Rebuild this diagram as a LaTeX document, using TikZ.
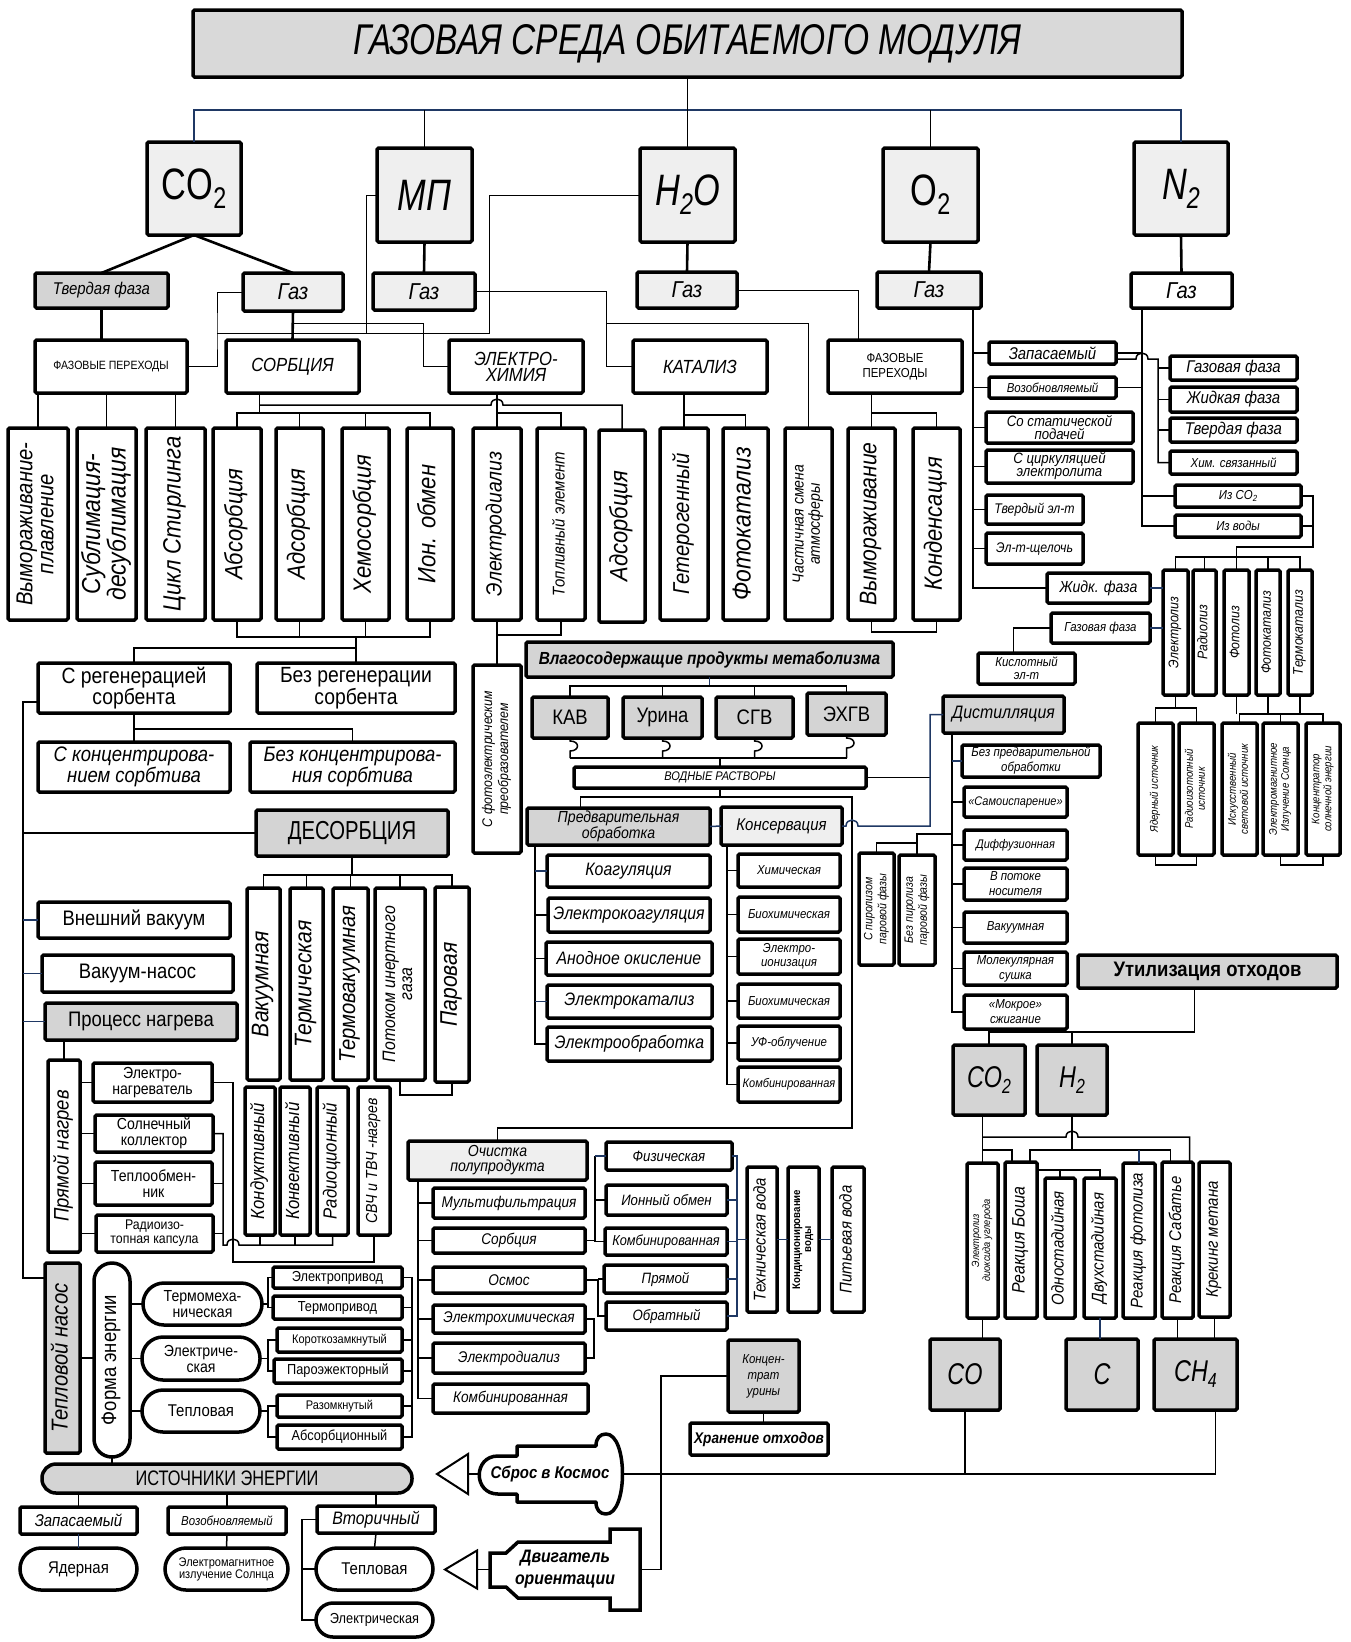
\documentclass[tikz,border=0pt]{standalone}
\usepackage{fontspec}
\setmainfont{Liberation Sans}[FakeStretch=0.88]
\newfontfamily\narrow{Liberation Sans}[FakeStretch=0.78]
\definecolor{cdark}{HTML}{D4D4D4}
\definecolor{clight}{HTML}{EFEFEF}
\definecolor{ctitle}{HTML}{D9D9D9}
\definecolor{cnavy}{HTML}{1F3864}
\newcommand\fsi[2]{\fontsize{#1}{#2}\selectfont\itshape}
\newcommand\fsu[2]{\fontsize{#1}{#2}\selectfont\upshape}
\newcommand\vtext[1]{\rotatebox{90}{\begin{tabular}{@{}c@{}}#1\end{tabular}}}
\newcommand\sbs[1]{\raisebox{-0.2em}{\scalebox{0.68}{#1}}}
\tikzset{
  b/.style={draw, fill=#1, line width=3.5pt, rounded corners=1.5pt, inner sep=0pt, outer sep=0pt, align=center},
  b/.default=white,
  cell/.style args={#1,#2,#3,#4}{at={({(#1+#3)/2},{(#2+#4)/2})}, minimum width={#3-#1}, minimum height={#4-#2}},
  lbl/.style={inner sep=0pt, outer sep=0pt, align=center},
  ln/.style={line width=1.5pt},
  tl/.style={line width=1pt},
  tk/.style={line width=2.6pt},
  nl/.style={ln, draw=cnavy},
  hull/.style={line width=3.5pt, fill=white, line join=round},
  tri/.style={line width=2pt, fill=white, line join=miter},
}
\begin{document}
\begin{tikzpicture}[x=1pt, y=-1pt]
\useasboundingbox (0,0) rectangle (1351,1642);

% top level
\node[b=ctitle, cell={193,10,1182,77}, font={\narrow\fsi{43}{43}}] (title) {ГАЗОВАЯ СРЕДА ОБИТАЕМОГО МОДУЛЯ};
\node[b=clight, cell={147,142,241,235}, font={\narrow\fsu{44}{44}}] (co2) {CO\sbs{2}};
\node[b=clight, cell={377,148,472,242}, font={\narrow\fsi{44}{44}}] (mp) {МП};
\node[b=clight, cell={640,148,735,242}, font={\narrow\fsi{44}{44}}] (h2o) {H\sbs{2}O};
\node[b=clight, cell={883,148,978,242}, font={\narrow\fsu{44}{44}}] (o2) {O\sbs{2}};
\node[b=clight, cell={1134,142,1228,235}, font={\narrow\fsi{44}{44}}] (n2) {N\sbs{2}};

% phases
\node[b=cdark, cell={35,273,168,308}, font={\fsi{17}{17}}] (tv) {Твердая фаза};
\node[b=clight, cell={243,273,343,311}, font={\fsi{23}{23}}] (gco2) {Газ};
\node[b=clight, cell={373,273,475,310}, font={\fsi{23}{23}}] (gmp) {Газ};
\node[b=clight, cell={637,272,737,308}, font={\fsi{23}{23}}] (gh2o) {Газ};
\node[b=clight, cell={877,272,981,308}, font={\fsi{23}{23}}] (go2) {Газ};
\node[b, cell={1131,273,1232,308}, font={\fsi{23}{23}}] (gn2) {Газ};

% methods
\node[b, cell={35,340,187,393}, font={\fsu{12}{12}}] (fpco2) {ФАЗОВЫЕ ПЕРЕХОДЫ};
\node[b, cell={226,340,359,393}, font={\fsi{19}{19}}] (sorb) {СОРБЦИЯ};
\node[b, cell={449,340,583,393}, font={\fsi{19}{16}}] (elch) {ЭЛЕКТРО-\\ХИМИЯ};
\node[b, cell={633,340,767,393}, font={\fsi{19}{19}}] (kat) {КАТАЛИЗ};
\node[b, cell={828,340,962,393}, font={\fsu{13}{15}}] (fpo2) {ФАЗОВЫЕ\\ПЕРЕХОДЫ};

% oxygen and nitrogen
\node[b, cell={989,342,1116,364}, font={\fsi{17}{17}}] (zap) {Запасаемый};
\node[b, cell={989,377,1116,398}, font={\fsi{13}{13}}] (voz) {Возобновляемый};
\node[b, cell={1170,356,1297,380}, font={\fsi{17}{17}}] (gazf) {Газовая фаза};
\node[b, cell={1170,387,1297,412}, font={\fsi{17}{17}}] (zhidf) {Жидкая фаза};
\node[b, cell={1170,418,1297,442}, font={\fsi{17}{17}}] (tvf) {Твердая фаза};
\node[b, cell={1170,451,1297,474}, font={\fsi{13}{13}}] (him) {Хим. связанный};
\node[b, cell={1175,485,1301,507}, font={\fsi{13}{13}}] (izco2) {Из CO\sbs{2}};
\node[b, cell={1175,515,1301,537}, font={\fsi{13}{13}}] (izvod) {Из воды};
\node[b, cell={986,412,1133,443}, font={\fsi{15}{13}}] (sostat) {Со статической\\подачей};
\node[b, cell={986,450,1133,483}, font={\fsi{15}{13}}] (scirk) {С циркуляцией\\электролита};
\node[b, cell={986,495,1083,524}, font={\fsi{14}{14}}] (tvel) {Твердый эл-т};
\node[b, cell={986,533,1083,564}, font={\fsi{14}{14}}] (elsh) {Эл-т-щелочь};
\node[b, cell={1047,573,1150,603}, font={\fsi{16}{16}}] (zhidk) {Жидк. фаза};
\node[b, cell={1051,613,1150,643}, font={\fsi{13}{13}}] (gazf2) {Газовая фаза};
\node[b, cell={978,653,1075,684}, font={\fsi{13}{13}}] (kisl) {Кислотный\\эл-т};
\node[b, cell={1163,570,1188,695}, font={\fsi{14}{14}}] (elz) {\vtext{Электролиз}};
\node[b, cell={1193,570,1216,695}, font={\fsi{14}{14}}] (rad) {\vtext{Радиолиз}};
\node[b, cell={1224,570,1249,695}, font={\fsi{14}{14}}] (fotol) {\vtext{Фотолиз}};
\node[b, cell={1256,570,1280,695}, font={\fsi{14}{14}}] (fotok) {\vtext{Фотокатализ}};
\node[b, cell={1288,570,1312,695}, font={\fsi{14}{14}}] (termok) {\vtext{Термокатализ}};
\node[b, cell={1138,723,1173,855}, font={\fsi{11}{12}}] (yad) {\vtext{Ядерный источник}};
\node[b, cell={1179,723,1214,855}, font={\fsi{11}{12}}] (radioiz) {\vtext{Радиоизотопный\\источник}};
\node[b, cell={1222,723,1257,855}, font={\fsi{11}{12}}] (iskus) {\vtext{Искусственный\\световой источник}};
\node[b, cell={1263,723,1298,855}, font={\fsi{11}{12}}] (elmag) {\vtext{Электромагнитное\\Излучение Солнца}};
\node[b, cell={1306,723,1340,855}, font={\fsi{11}{12}}] (konc) {\vtext{Концентратор\\солнечной энергии}};

% vertical row
\node[b, cell={8,428,68,620}, font={\fsi{23}{21}}] (vymp) {\vtext{Вымораживание-\\плавление}};
\node[b, cell={77,428,136,620}, font={\fsi{26}{21}}] (subl) {\vtext{Сублимация-\\десублимация}};
\node[b, cell={146,428,205,620}, font={\fsi{25}{25}}] (stirl) {\vtext{Цикл Стирлинга}};
\node[b, cell={213,428,261,620}, font={\fsi{25}{25}}] (absb) {\vtext{Абсорбция}};
\node[b, cell={276,428,323,620}, font={\fsi{25}{25}}] (adsb) {\vtext{Адсорбция}};
\node[b, cell={342,428,389,620}, font={\fsi{25}{25}}] (hemb) {\vtext{Хемосорбция}};
\node[b, cell={407,428,453,620}, font={\fsi{25}{25}}] (ionb) {\vtext{Ион. обмен}};
\node[b, cell={473,428,521,620}, font={\fsi{22}{22}}] (eldial) {\vtext{Электродиализ}};
\node[b, cell={537,428,585,620}, font={\fsi{17}{17}}] (topl) {\vtext{Топливный элемент}};
\node[b, cell={599,430,645,622}, font={\fsi{25}{25}}] (ads2) {\vtext{Адсорбция}};
\node[b, cell={660,428,708,620}, font={\fsi{23}{23}}] (getb) {\vtext{Гетерогенный}};
\node[b, cell={723,428,768,620}, font={\fsi{26}{26}}] (fotkb) {\vtext{Фотокатализ}};
\node[b, cell={785,428,832,620}, font={\fsi{16}{16}}] (chs) {\vtext{Частичная смена\\атмосферы}};
\node[b, cell={848,428,895,620}, font={\fsi{24}{24}}] (vym) {\vtext{Вымораживание}};
\node[b, cell={913,428,960,620}, font={\fsi{25}{25}}] (kond) {\vtext{Конденсация}};

% sorbent
\node[b, cell={38,663,230,713}, font={\fsu{22}{18}}] (sreg) {С регенерацией\\сорбента};
\node[b, cell={257,663,455,713}, font={\fsu{22}{18}}] (bezreg) {Без регенерации\\сорбента};
\node[b, cell={38,742,230,792}, font={\fsi{21}{18}}] (skonc) {С концентрирова-\\нием сорбтива};
\node[b, cell={250,742,455,792}, font={\fsi{21}{18}}] (bezkonc) {Без концентрирова-\\ния сорбтива};

% desorption
\node[b=cdark, cell={256,810,448,856}, font={\narrow\fsu{26}{26}}] (desorb) {ДЕСОРБЦИЯ};
\node[b, cell={38,902,230,938}, font={\fsu{21}{21}}] (vnv) {Внешний вакуум};
\node[b, cell={42,955,233,992}, font={\fsu{21}{21}}] (vakn) {Вакуум-насос};
\node[b=cdark, cell={45,1003,237,1040}, font={\fsu{21}{21}}] (pnag) {Процесс нагрева};
\node[b, cell={247,888,280,1080}, font={\fsi{24}{24}}] (vak1) {\vtext{Вакуумная}};
\node[b, cell={290,888,323,1080}, font={\fsi{24}{24}}] (term) {\vtext{Термическая}};
\node[b, cell={333,888,368,1080}, font={\fsi{23}{23}}] (tvak) {\vtext{Термовакуумная}};
\node[b, cell={375,888,425,1080}, font={\fsi{18}{17}}] (potok) {\vtext{Потоком инертного\\газа}};
\node[b, cell={435,887,469,1082}, font={\fsi{24}{24}}] (par) {\vtext{Паровая}};

% heating
\node[b, cell={48,1060,80,1252}, font={\fsi{21}{21}}] (prn) {\vtext{Прямой нагрев}};
\node[b, cell={93,1063,212,1102}, font={\fsu{16}{16}}] (elnag) {Электро-\\нагреватель};
\node[b, cell={95,1115,213,1152}, font={\fsu{16}{16}}] (solk) {Солнечный\\коллектор};
\node[b, cell={95,1162,212,1205}, font={\fsu{16}{16}}] (teplo) {Теплообмен-\\ник};
\node[b, cell={96,1215,213,1252}, font={\fsu{14}{14}}] (radk) {Радиоизо-\\топная капсула};
\node[b, cell={245,1087,275,1235}, font={\fsi{19}{19}}] (kond1) {\vtext{Кондуктивный}};
\node[b, cell={280,1087,310,1235}, font={\fsi{19}{19}}] (konv) {\vtext{Конвективный}};
\node[b, cell={317,1087,348,1235}, font={\fsi{19}{19}}] (rad2) {\vtext{Радиоционный}};
\node[b, cell={358,1087,390,1235}, font={\fsi{16}{16}}] (svch) {\vtext{СВЧ и ТВЧ -нагрев}};

% energy forms
\node[b=cdark, cell={45,1263,80,1453}, font={\fsi{23}{23}}] (tepn) {\vtext{Тепловой насос}};
\node[b, rounded corners=18pt, cell={94,1263,130,1457}, font={\fsu{21}{21}}] (forma) {\vtext{Форма энергии}};
\node[b, rounded corners=21pt, cell={143,1283,262,1325}, font={\fsu{16}{16}}] (termm) {Термомеха-\\ническая};
\node[b, rounded corners=21pt, cell={142,1337,260,1380}, font={\fsu{16}{16}}] (elek) {Электриче-\\ская};
\node[b, rounded corners=21pt, cell={142,1390,260,1432}, font={\fsu{17}{17}}] (teplv) {Тепловая};
\node[b, cell={273,1267,402,1288}, font={\fsu{14.5}{14.5}}] (elpr) {Электропривод};
\node[b, cell={273,1296,402,1319}, font={\fsu{14.5}{14.5}}] (termpr) {Термопривод};
\node[b, cell={277,1328,402,1352}, font={\fsu{12.5}{12.5}}] (korot) {Короткозамкнутый};
\node[b, cell={274,1359,402,1383}, font={\fsu{14.5}{14.5}}] (paroj) {Пароэжекторный};
\node[b, cell={277,1395,402,1417}, font={\fsu{12.5}{12.5}}] (razom) {Разомкнутый};
\node[b, cell={277,1425,402,1449}, font={\fsu{14.5}{14.5}}] (absorbc) {Абсорбционный};

% energy sources
\node[b=cdark, rounded corners=14pt, cell={42,1464,412,1493}, font={\narrow\fsu{21}{21}}] (ist) {ИСТОЧНИКИ ЭНЕРГИИ};
\node[b, cell={20,1507,137,1534}, font={\fsi{17}{17}}] (zap2) {Запасаемый};
\node[b, cell={168,1507,286,1534}, font={\fsi{13}{13}}] (voz2) {Возобновляемый};
\node[b, cell={317,1506,435,1533}, font={\fsi{18}{18}}] (vtor) {Вторичный};
\node[b, rounded corners=21pt, cell={20,1548,137,1590}, font={\fsu{17}{17}}] (yadr) {Ядерная};
\node[b, rounded corners=21pt, cell={165,1548,288,1590}, font={\fsu{12.5}{12}}] (elms) {Электромагнитное\\излучение Солнца};
\node[b, rounded corners=21pt, cell={316,1548,433,1590}, font={\fsu{17}{17}}] (teplv2) {Тепловая};
\node[b, rounded corners=17pt, cell={316,1603,433,1637}, font={\fsu{14.5}{14.5}}] (elek2) {Электрическая};

% water
\node[b, cell={473,665,521,853}, font={\fsi{14}{16}}] (sfot) {\vtext{С фотоэлектрическим\\преобразователем}};
\node[b=cdark, cell={526,642,893,677}, font={\fsi{17.5}{17.5}\bfseries}] (vlag) {Влагосодержащие продукты метаболизма};
\node[b=cdark, cell={532,697,608,738}, font={\fsu{21}{21}}] (kav) {КАВ};
\node[b=cdark, cell={623,697,702,738}, font={\fsu{21}{21}}] (ur) {Урина};
\node[b=cdark, cell={716,697,793,738}, font={\fsu{21}{21}}] (sgv) {СГВ};
\node[b=cdark, cell={807,693,886,735}, font={\fsu{21}{21}}] (ehgv) {ЭХГВ};
\node[b, cell={574,767,866,788}, font={\fsi{12.5}{12.5}}] (vodr) {ВОДНЫЕ РАСТВОРЫ};
\node[b=cdark, cell={527,808,710,845}, font={\fsi{16}{14}}] (pred) {Предварительная\\обработка};
\node[b=clight, cell={721,807,842,845}, font={\fsi{17}{17}}] (kons) {Консервация};
\node[b, cell={547,855,710,887}, font={\fsi{18}{18}}] (koag) {Коагуляция};
\node[b, cell={548,898,710,932}, font={\fsi{18}{18}}] (elkoag) {Электрокоагуляция};
\node[b, cell={546,942,712,975}, font={\fsi{18}{18}}] (anod) {Анодное окисление};
\node[b, cell={547,985,712,1018}, font={\fsi{18}{18}}] (elkat) {Электрокатализ};
\node[b, cell={547,1027,712,1061}, font={\fsi{18}{18}}] (elob) {Электрообработка};
\node[b, cell={738,854,840,887}, font={\fsi{13}{13}}] (him2) {Химическая};
\node[b, cell={738,897,840,932}, font={\fsi{13}{13}}] (bioh1) {Биохимическая};
\node[b, cell={738,939,840,974}, font={\fsi{13}{14}}] (elion) {Электро-\\ионизация};
\node[b, cell={738,984,840,1018}, font={\fsi{13}{13}}] (bioh2) {Биохимическая};
\node[b, cell={738,1026,840,1060}, font={\fsi{13}{13}}] (uf) {УФ-облучение};
\node[b, cell={738,1067,840,1102}, font={\fsi{12.5}{12.5}}] (komb1) {Комбинированная};
\node[b=cdark, cell={943,696,1064,733}, font={\fsi{18}{18}}] (dist) {Дистилляция};
\node[b, cell={962,745,1100,777}, font={\fsi{13}{15}}] (bezpr) {Без предварительной\\обработки};
\node[b, cell={964,787,1067,817}, font={\fsi{12.5}{12.5}}] (samo) {«Самоиспарение»};
\node[b, cell={964,830,1067,860}, font={\fsi{12.5}{12.5}}] (diff) {Диффузионная};
\node[b, cell={964,868,1067,900}, font={\fsi{13}{15}}] (vpot) {В потоке\\носителя};
\node[b, cell={964,912,1067,943}, font={\fsi{13}{13}}] (vak2) {Вакуумная};
\node[b, cell={964,952,1067,985}, font={\fsi{13}{15}}] (mol) {Молекулярная\\сушка};
\node[b, cell={964,995,1067,1029}, font={\fsi{13}{15}}] (mokr) {«Мокрое»\\сжигание};
\node[b, cell={859,853,894,965}, font={\fsi{12}{14}}] (spir) {\vtext{С пиролизом\\паровой фазы}};
\node[b, cell={899,855,935,965}, font={\fsi{12}{14}}] (bpir) {\vtext{Без пиролиза\\паровой фазы}};

% purification
\node[b=clight, cell={408,1141,587,1180}, font={\fsi{16}{15}}] (och) {Очистка\\полупродукта};
\node[b, cell={433,1188,585,1218}, font={\fsi{15.5}{15.5}}] (mult) {Мультифильтрация};
\node[b, cell={433,1228,585,1253}, font={\fsi{15.5}{15.5}}] (sorb2) {Сорбция};
\node[b, cell={433,1267,585,1293}, font={\fsi{15.5}{15.5}}] (osm) {Осмос};
\node[b, cell={433,1305,585,1333}, font={\fsi{15.5}{15.5}}] (elhim) {Электрохимическая};
\node[b, cell={433,1343,585,1373}, font={\fsi{15.5}{15.5}}] (eldi2) {Электродиализ};
\node[b, cell={433,1384,588,1413}, font={\fsi{15.5}{15.5}}] (komb2) {Комбинированная};
\node[b, cell={606,1142,732,1170}, font={\fsi{15}{15}}] (fiz) {Физическая};
\node[b, cell={606,1185,727,1215}, font={\fsi{15}{15}}] (ion2) {Ионный обмен};
\node[b, cell={605,1228,727,1255}, font={\fsi{14.5}{14.5}}] (komb3) {Комбинированная};
\node[b, cell={604,1265,727,1293}, font={\fsi{15}{15}}] (pryam) {Прямой};
\node[b, cell={606,1302,727,1330}, font={\fsi{15}{15}}] (obr) {Обратный};
\node[b, cell={747,1167,777,1312}, font={\fsi{17}{17}}] (tehv) {\vtext{Техническая вода}};
\node[b, cell={788,1167,819,1312}, font={\fsu{11}{11}\bfseries}] (kond2) {\vtext{Кондиционирование\\воды}};
\node[b, cell={832,1167,864,1312}, font={\fsi{17}{17}}] (pitv) {\vtext{Питьевая вода}};
\node[b=cdark, cell={728,1340,799,1412}, font={\fsi{13}{16}}] (konu) {Концен-\\трат\\урины};
\node[b, cell={690,1423,828,1455}, font={\fsi{15.5}{15.5}\bfseries}] (hran) {Хранение отходов};

% waste utilisation
\node[b=cdark, cell={1078,955,1337,988}, font={\fsu{21}{21}\bfseries}] (util) {Утилизация отходов};
\node[b=cdark, cell={953,1045,1025,1115}, font={\narrow\fsi{30}{30}}] (co2b) {CO\sbs{2}};
\node[b=cdark, cell={1037,1045,1107,1115}, font={\narrow\fsi{30}{30}}] (h2b) {H\sbs{2}};
\node[b, cell={967,1163,998,1318}, font={\fsi{10.5}{11}}] (elco2) {\vtext{Электролиз\\диоксида углерода}};
\node[b, cell={1005,1162,1037,1318}, font={\fsi{18}{18}}] (bosh) {\vtext{Реакция Боша}};
\node[b, cell={1045,1178,1075,1318}, font={\fsi{17}{17}}] (odn) {\vtext{Одностадийная}};
\node[b, cell={1084,1178,1116,1318}, font={\fsi{17}{17}}] (dvuh) {\vtext{Двухстадийная}};
\node[b, cell={1123,1163,1155,1318}, font={\fsi{17}{17}}] (fotr) {\vtext{Реакция фотолиза}};
\node[b, cell={1162,1162,1193,1318}, font={\fsi{17}{17}}] (sab) {\vtext{Реакция Сабатье}};
\node[b, cell={1199,1162,1230,1317}, font={\fsi{17}{17}}] (krek) {\vtext{Крекинг метана}};
\node[b=cdark, cell={930,1339,1000,1410}, font={\narrow\fsi{30}{30}}] (co) {CO};
\node[b=cdark, cell={1066,1339,1138,1410}, font={\narrow\fsi{30}{30}}] (cnode) {C};
\node[b=cdark, cell={1154,1339,1237,1410}, font={\narrow\fsi{30}{30}}] (ch4) {CH\sbs{4}};

% rockets
\draw[hull] (517,1456) -- (517,1446) -- (596,1446) .. controls (596,1438) and (600,1434) .. (606,1434)
  .. controls (628,1434) and (628,1514) .. (606,1514) .. controls (600,1514) and (596,1510) .. (596,1502)
  -- (517,1502) -- (517,1494) -- (498,1494) .. controls (473,1494) and (473,1456) .. (498,1456) -- cycle;
\node[lbl, cell={478,1434,622,1514}, font={\fsi{17}{17}\bfseries}] (sbros) {Сброс в Космос};
\draw[hull, line join=miter] (490,1553) -- (506,1553) -- (518,1542) -- (610,1542) -- (610,1529) -- (640,1529)
  -- (640,1610) -- (610,1610) -- (610,1598) -- (518,1598) -- (506,1587) -- (490,1587) -- cycle;
\node[lbl, cell={490,1529,640,1610}, font={\fsi{18}{22}\bfseries}] (dvig) {Двигатель\\ориентации};

% ---------------- connectors ----------------
\coordinate (ytop) at (0,110);
\draw[nl] (co2.north) -- (co2.north |- ytop) -- (n2.north |- ytop) -- (n2.north);
\foreach \n in {mp,h2o,o2} \draw[ln] (\n.north |- ytop) -- (\n.north);
\draw[ln] (title.south) -- (title.south |- ytop);
\draw[tk] (co2.south) -- (tv.north);
\draw[tk] (co2.south) -- (gco2.north);
\foreach \a/\z in {mp/gmp,h2o/gh2o,o2/go2,n2/gn2} \draw[tk] (\a.south) -- (\z.north);
\draw[tk] (tv.south) -- (tv.south |- fpco2.north);
\draw[tk] (gco2.south) -- (sorb.north);

% thin cross links
\coordinate (jfp) at (217,333);
\draw[tl] (gco2.west) -| (jfp) |- (fpco2.east);
\draw[tl] (mp.west) -- ++(-11,0) |- (jfp);
\draw[tl] (h2o.west) -- ++(-151,0) |- (jfp);
\draw[tl] (gco2.south) ++(0,12) -- ++(130,0) |- (elch.west);
\draw[tl] (gmp.east) -- ++(131,0) |- (kat.west);
\draw[tl] (gmp.east) ++(131,32) -| (chs.north);
\draw[tl] (gh2o.east) -| ([xshift=30]fpo2.north west);

% oxygen
\coordinate (bo2) at (973,0);
\draw[ln] (go2.south -| bo2) -- (bo2 |- zhidk.west) -- (zhidk.west);
\foreach \n in {zap,voz,sostat,scirk,tvel,elsh} \draw[ln] (bo2 |- \n.west) -- (\n.west);

% nitrogen
\coordinate (bn2) at (1142,0);
\coordinate (bst) at (1158,0);
\coordinate (hz) at (1136,359);
\draw[ln] (gn2.south -| bn2) -- (bn2 |- izvod.west) -- (izvod.west);
\draw[ln] (bn2 |- izco2.west) -- (izco2.west);
\draw[ln] (voz.east) -- (voz.east -| bn2);
\draw[ln] (zap.east) -- (zap.east -| bn2);
\draw[ln] (zap.east |- hz) -- (hz) .. controls +(0,-8) and +(0,-8) .. ++(12,0) -| (bst |- him.west) -- (him.west);
\foreach \n in {gazf,zhidf,tvf} \draw[ln] (bst |- \n.west) -- (\n.west);

% water splitting
\coordinate (jiz) at (1313,547);
\coordinate (bel) at (0,557);
\draw[ln] (izco2.east) -| (jiz) -| (fotol.north);
\draw[ln] (izvod.east) -| (jiz);
\draw[ln] (elz.north) |- (termok.north |- bel) -- (termok.north);
\foreach \n in {rad,fotok} \draw[ln] (\n.north) -- (\n.north |- bel);
\draw[nl] (zhidk.east) -- (zhidk.east -| elz.west);
\draw[nl] (gazf2.east) -- (gazf2.east -| elz.west);
\draw[ln] (gazf2.west) -| ([xshift=-13]kisl.north);
\coordinate (byad) at (0,708);
\coordinate (bisk) at (0,714);
\draw[ln] (elz.south) -- (elz.south |- byad);
\draw[ln] (yad.north) |- (radioiz.north |- byad) -- (radioiz.north);
\foreach \n in {fotol,fotok,termok} \draw[ln] (\n.south) -- (\n.south |- bisk);
\draw[ln] (iskus.north) |- (konc.north |- bisk) -- (konc.north);
\draw[ln] (elmag.north) -- (elmag.north |- bisk);
\draw[ln] (yad.south) -- ++(0,10) -| (radioiz.south);
\draw[ln] (elmag.south) -- ++(0,10) -| (konc.south);

% method branches
\foreach \n in {vymp,subl,stirl} \draw[ln] (\n.north |- fpco2.south) -- (\n.north);
\coordinate (bsor) at (0,413);
\coordinate (bkat) at (0,415);
\coordinate (hs) at (491,405);
\draw[ln] ([xshift=-33]sorb.south) -- ++(0,20);
\draw[ln] (absb.north) |- (ionb.north |- bsor) -- (ionb.north);
\foreach \n in {adsb,hemb} \draw[ln] (\n.north) -- (\n.north |- bsor);
\draw[ln] ([xshift=-33]sorb.south) ++(0,12) -- (hs) .. controls +(0,-8) and +(0,-8) .. ++(12,0) -| (ads2.north);
\draw[ln] (elch.south -| eldial.north) -- (eldial.north);
\draw[ln] (eldial.north |- bsor) -| (topl.north);
\draw[ln] (kat.south -| getb.north) -- (getb.north);
\draw[ln] (getb.north |- bkat) -| (fotkb.north);
\draw[ln] (fpo2.south -| vym.north) -- (vym.north);
\draw[ln] (vym.north |- bsor) -| (kond.north);

% sorbent regeneration
\coordinate (bsb) at (0,637);
\coordinate (bsb2) at (0,648);
\coordinate (bkon) at (0,729);
\draw[ln] (absb.south) |- (ionb.south |- bsb) -- (ionb.south);
\foreach \n in {adsb,hemb} \draw[ln] (\n.south) -- (\n.south |- bsb);
\draw[ln] (bezreg.north |- bsb) -- (bezreg.north);
\draw[ln] (sreg.north) |- (bezreg.north |- bsb2);
\draw[ln] (sreg.south) -- (skonc.north);
\draw[ln] (skonc.north |- bkon) -| (bezkonc.north);
\draw[ln] (eldial.south) -- ++(0,15) -| (topl.south);
\draw[ln] (eldial.south) -- (sfot.north);
\draw[ln] (vym.south) -- ++(0,12) -| (kond.south);

% left trunk
\coordinate (bl) at (23,0);
\coordinate (tp1) at ([yshift=-15]tepn.north west);
\draw[ln] ([yshift=-14]sreg.west) -| (bl |- tp1) -- (tp1);
\draw[ln] (bl |- desorb.west) -- (desorb.west);
\foreach \n in {vnv,vakn,pnag} \draw[nl] (bl |- \n.west) -- (\n.west);

% desorption modes
\coordinate (bde) at (0,875);
\draw[ln] (desorb.south) -- (desorb.south |- bde);
\draw[ln] (vak1.north) |- (par.north |- bde) -- (par.north);
\foreach \n in {term,tvak,potok} \draw[ln] (\n.north) -- (\n.north |- bde);
\draw[ln] (potok.south) -- ++(0,15) -| (par.south);

% heating
\coordinate (bh1) at (223,0);
\coordinate (bh2) at (233,0);
\coordinate (bsv) at (0,1262);
\coordinate (hh) at (227,1245);
\draw[ln] (prn.north |- pnag.south) -- (prn.north);
\foreach \n in {elnag,solk,teplo,radk} \draw[ln] (prn.east |- \n.west) -- (\n.west);
\draw[ln] (elnag.east) -| (bh2 |- bsv) -| (svch.south);
\draw[ln] (solk.east) -| (bh1 |- hh) -- (hh) .. controls +(0,-8) and +(0,-8) .. ++(12,0) -| (rad2.south);
\foreach \n in {kond1,konv} \draw[ln] (\n.south) -- (\n.south |- hh);
\foreach \n in {teplo,radk} \draw[ln] (\n.east) -- (\n.east -| bh1);

% energy forms
\coordinate (bp) at (268,0);
\coordinate (bpr2) at (412,0);
\draw[ln] (tepn.east) -- (tepn.east -| forma.west);
\foreach \n in {termm,elek,teplv} \draw[ln] (forma.east |- \n.west) -- (\n.west);
\draw[ln] (termm.east) -- (termm.east -| bp);
\draw[ln] (elpr.west) -| (bp |- termpr.west) -- (termpr.west);
\draw[ln] (elek.east) -- (elek.east -| bp);
\draw[ln] (korot.west) -| (bp |- paroj.west) -- (paroj.west);
\draw[ln] (teplv.east) -- (teplv.east -| bp);
\draw[ln] (razom.west) -| (bp |- absorbc.west) -- (absorbc.west);
\draw[ln] (elpr.east) -| (bpr2 |- absorbc.east) -- (absorbc.east);
\foreach \n in {termpr,korot,paroj,razom} \draw[ln] (\n.east) -- (\n.east -| bpr2);

% energy sources
\coordinate (bvt) at (302,0);
\draw[ln] (forma.south) -- (forma.south |- ist.north);
\foreach \n in {zap2,voz2,vtor} \draw[ln] (\n.north |- ist.south) -- (\n.north);
\draw[nl] (zap2.south) -- (yadr.north);
\draw[ln] (voz2.south) -- (elms.north);
\draw[ln] (vtor.south) -- (teplv2.north);
\draw[ln] (vtor.west) -| (bvt |- elek2.west) -- (elek2.west);
\draw[ln] (bvt |- teplv2.west) -- (teplv2.west);

% metabolism products
\coordinate (bvl) at (0,686);
\coordinate (bvr) at (0,758);
\coordinate (bvo) at (0,797);
\coordinate (jvo) at (852,797);
\coordinate (jvo2) at (852,1128);
\coordinate (bds) at (930,0);
\coordinate (hk) at (858,826);
\draw[nl] (vlag.south) -- (vlag.south |- bvl);
\draw[ln] (kav.north) |- (ehgv.north |- bvl) -- (ehgv.north);
\foreach \n in {ur,sgv} \draw[ln] (\n.north) -- (\n.north |- bvl);
\foreach \n in {kav,ur,sgv,ehgv} \draw[ln] (\n.south) -- ++(0,3) .. controls +(10,0) and +(10,0) .. ++(0,10) -- (\n.south |- bvr);
\draw[ln] (kav.south |- bvr) -- (ehgv.south |- bvr);
\draw[ln] (vodr.north) -- (vodr.north |- bvr);
\draw[ln] (vodr.south) -- (vodr.south |- bvo);
\draw[ln] ([xshift=-38]pred.north) |- (jvo) -- (jvo2) -| (och.north);
\draw[ln] (vodr.east) -- (vodr.east -| bds);
\draw[nl] (dist.west) -| (bds |- hk) -- (hk) .. controls +(0,-8) and +(0,-8) .. ++(-12,0) -- (kons.east);
\draw[nl] (pred.east) -- (kons.west);

% distillation
\coordinate (bdi) at (952,0);
\coordinate (bpy) at (0,843);
\coordinate (bpy2) at (0,834);
\draw[ln] (bdi |- dist.south) -- (bdi |- mokr.west) -- (mokr.west);
\draw[nl] (bdi |- bezpr.west) -- (bezpr.west);
\foreach \n in {samo,diff,vpot,vak2,mol} \draw[ln] (bdi |- \n.west) -- (\n.west);
\draw[ln] (spir.north) |- (bpir.north |- bpy) -- (bpir.north);
\draw[ln] (bpir.north |- bpy) |- (bdi |- bpy2);

% pretreatment and conservation
\coordinate (bpr) at (535,0);
\coordinate (bko) at (727,0);
\draw[ln] (bpr |- pred.south) -- (bpr |- elob.west) -- (elob.west);
\foreach \n in {koag,elkat} \draw[nl] (bpr |- \n.west) -- (\n.west);
\foreach \n in {elkoag,anod} \draw[ln] (bpr |- \n.west) -- (\n.west);
\draw[ln] (bko |- kons.south) -- (bko |- komb1.west) -- (komb1.west);
\foreach \n in {him2,bioh1,elion,bioh2,uf} \draw[ln] (bko |- \n.west) -- (\n.west);

% purification
\coordinate (boc) at (418,0);
\coordinate (bfi) at (595,0);
\coordinate (bos) at (598,0);
\coordinate (bfr) at (737,0);
\draw[ln] (boc |- och.south) -- (boc |- komb2.west) -- (komb2.west);
\foreach \n in {mult,sorb2,osm,elhim,eldi2} \draw[ln] (boc |- \n.west) -- (\n.west);
\draw[ln] (sorb2.east) -- (sorb2.east -| bfi);
\draw[ln] (bfi |- fiz.west) -- (bfi |- komb3.west) -- (komb3.west);
\draw[nl] (bfi |- fiz.west) -- (fiz.west);
\draw[ln] (bfi |- ion2.west) -- (ion2.west);
\draw[ln] (osm.east) -| (bos |- obr.west) -- (obr.west);
\draw[ln] (bos |- pryam.west) -- (pryam.west);
\draw[ln] (elhim.east) -- ++(9,0) |- (eldi2.east);
\draw[nl] (fiz.east) -| (bfr |- obr.east) -- (obr.east);
\foreach \n in {ion2,komb3,pryam} \draw[nl] (\n.east) -- (\n.east -| bfr);
\draw[nl] (bfr |- tehv.west) -- (tehv.west);
\draw[nl] (tehv.east) -- (kond2.west);
\draw[nl] (kond2.east) -- (pitv.west);

% urine concentrate
\coordinate (bkd) at (661,0);
\draw[ln] (konu.south) -- (konu.south |- hran.north);
\draw[ln] (konu.west) -| (bkd |- dvig.east) -- (dvig.east);

% waste utilisation
\coordinate (but) at (0,1032);
\coordinate (bcb) at (0,1150);
\coordinate (bcc) at (0,1170);
\coordinate (hc) at (1066,1137);
\coordinate (boshl) at ([xshift=-9]bosh.north);
\coordinate (boshr) at ([xshift=9]bosh.north);
\coordinate (sabl) at ([xshift=-7]sab.north);
\coordinate (sabr) at ([xshift=12]sab.north);
\coordinate (ch4r) at ([xshift=20]ch4.south);
\draw[ln] ([xshift=-13]util.south) |- (co2b.north |- but) -- (co2b.north);
\draw[ln] (h2b.north) -- (h2b.north |- but);
\draw[ln] (elco2.north |- co2b.south) -- (elco2.north);
\draw[ln] (elco2.north |- hc) -- (hc) .. controls +(0,-8) and +(0,-8) .. ++(12,0) -| (sabr);
\draw[ln] (elco2.north |- bcb) -| (boshl);
\draw[ln] (h2b.south) -- (h2b.south |- bcb);
\draw[ln] (boshr) |- (sabl |- bcb) -- (sabl);
\draw[nl] (fotr.north) -- (fotr.north |- bcb);
\draw[ln] (bosh.east |- bcc) -| (dvuh.north);
\draw[ln] (odn.north) -- (odn.north |- bcc);
\draw[ln] (elco2.south) -- (elco2.south |- co.north);
\draw[nl] (dvuh.south) -- (dvuh.south |- cnode.north);
\draw[ln] (sab.south) -- (sab.south |- ch4.north);
\draw[ln] (krek.south) -- (krek.south |- ch4.north);
\draw[ln] (sbros.east) -| (ch4r);
\draw[ln] (co.south) -- (co.south |- sbros.east);

% exhaust cones
\draw[ln] (sbros.west) -- ++(-10,0) coordinate (tsb);
\draw[tri] (tsb) -- ++(0,-20) -- ++(-31,20) -- ++(31,20) -- cycle;
\draw[ln] (dvig.west) -- ++(-13,0) coordinate (tdv);
\draw[tri] (tdv) -- ++(0,-19) -- ++(-32,19) -- ++(32,19) -- cycle;
\end{tikzpicture}
\end{document}
